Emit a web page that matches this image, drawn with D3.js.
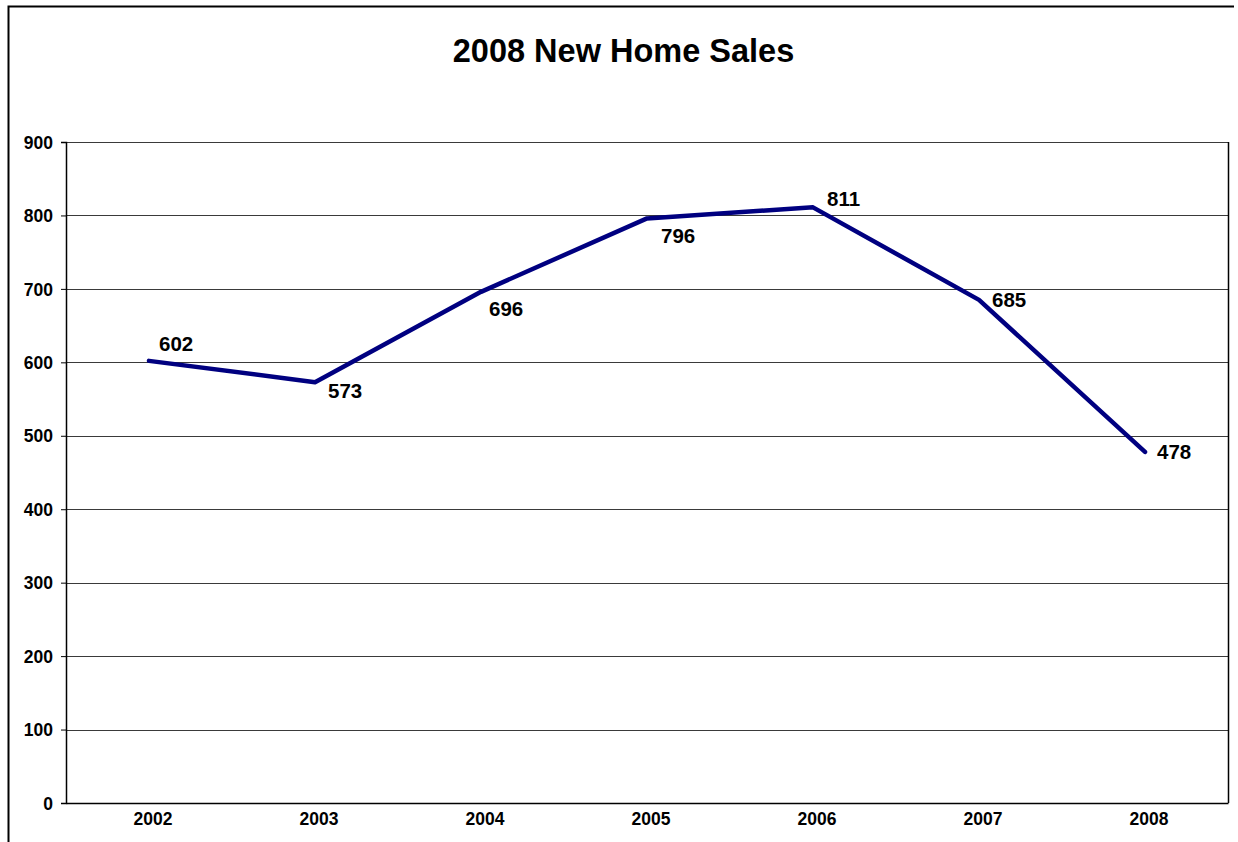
<!DOCTYPE html>
<html>
<head>
<meta charset="utf-8">
<script src="https://cdn.jsdelivr.net/npm/d3@7"></script>
<style>
  html, body { margin: 0; padding: 0; background: #fff; }
  svg { display: block; font-family: "Liberation Sans", Arial, sans-serif; }
</style>
</head>
<body>
<svg id="chart" width="1238" height="842"></svg>
<script>
const title = "2008 New Home Sales";
const years = ["2002", "2003", "2004", "2005", "2006", "2007", "2008"];
const sales = [602, 573, 696, 796, 811, 685, 478];
const yTicks = [0, 100, 200, 300, 400, 500, 600, 700, 800, 900];

// label offsets (styling, relative to each point)
const labelOffsets = [[10, -10], [13, 16], [8, 24], [14, 25], [14, -1], [13, 7], [12, 7]];

const svg = d3.select("#chart");
const plot = { left: 66, right: 1228, top: 142, bottom: 803 };

// outer chart border (top and left visible)
svg.append("path")
  .attr("d", `M1234,6.5 H8.5 V842`)
  .attr("fill", "none").attr("stroke", "#000").attr("stroke-width", 2);

// title
svg.append("text")
  .attr("x", 623.5).attr("y", 62)
  .attr("text-anchor", "middle")
  .attr("font-size", 32.5).attr("font-weight", "bold")
  .text(title);

const x = d3.scaleBand().domain(years).range([plot.left, plot.right]);
const y = d3.scaleLinear().domain([0, 900]).range([plot.bottom, plot.top]);

// gridlines
svg.append("g")
  .selectAll("line")
  .data(yTicks.filter(d => d > 0))
  .join("line")
  .attr("x1", plot.left).attr("x2", plot.right)
  .attr("y1", d => Math.round(y(d)) + 0.5).attr("y2", d => Math.round(y(d)) + 0.5)
  .attr("stroke", "#3a3a3a").attr("stroke-width", 1);

// right border of plot area
svg.append("line")
  .attr("x1", plot.right + 0.5).attr("x2", plot.right + 0.5)
  .attr("y1", plot.top).attr("y2", plot.bottom)
  .attr("stroke", "#000").attr("stroke-width", 1.5);

// y axis
const yAxis = svg.append("g")
  .attr("transform", `translate(${plot.left},0)`)
  .call(d3.axisLeft(y).tickValues(yTicks).tickSize(5).tickPadding(8).tickFormat(d3.format("d")));
yAxis.select(".domain").attr("stroke", "#000").attr("stroke-width", 1.5);
yAxis.selectAll(".tick line").attr("stroke", "#000");
yAxis.selectAll(".tick text")
  .attr("font-family", "'Liberation Sans', Arial, sans-serif")
  .attr("font-size", 17.5).attr("font-weight", "bold").attr("fill", "#000")
  .attr("dy", "0.35em");

// x axis
const xAxis = svg.append("g")
  .attr("transform", `translate(0,${plot.bottom})`)
  .call(d3.axisBottom(x).tickSize(0).tickPadding(10));
xAxis.select(".domain").attr("stroke", "#000").attr("stroke-width", 1.5);
xAxis.selectAll(".tick text")
  .attr("font-family", "'Liberation Sans', Arial, sans-serif")
  .attr("font-size", 17.5).attr("font-weight", "bold").attr("fill", "#000")
  .attr("dx", 4);

// line
const pts = years.map((yr, i) => ({ yr, v: sales[i] }));
const line = d3.line()
  .x(d => x(d.yr) + x.bandwidth() / 2)
  .y(d => y(d.v));
svg.append("path")
  .datum(pts)
  .attr("d", line)
  .attr("fill", "none")
  .attr("stroke", "#000080")
  .attr("stroke-width", 4.5)
  .attr("stroke-linejoin", "round")
  .attr("stroke-linecap", "round");

// data labels
svg.append("g")
  .selectAll("text")
  .data(pts)
  .join("text")
  .attr("x", (d, i) => x(d.yr) + x.bandwidth() / 2 + labelOffsets[i][0])
  .attr("y", (d, i) => y(d.v) + labelOffsets[i][1])
  .attr("font-size", 20.5).attr("font-weight", "bold").attr("fill", "#000")
  .text(d => d.v);
</script>
</body>
</html>
